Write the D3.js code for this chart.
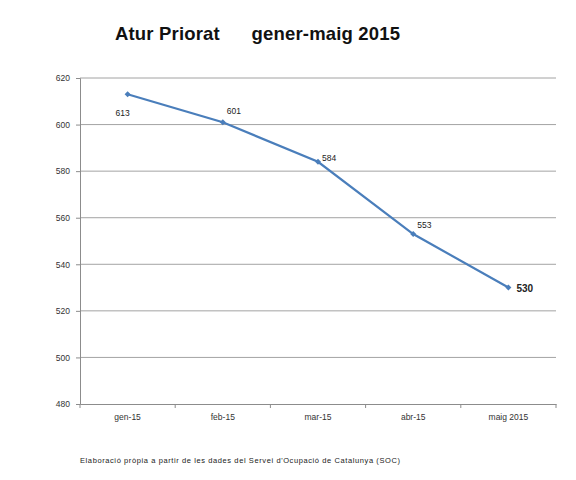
<!DOCTYPE html><html><head><meta charset="utf-8"><script src="https://cdn.jsdelivr.net/npm/d3@7"></script>
<style>body{margin:0;background:#fff}</style></head><body><svg id="c" width="576" height="480"></svg>
<script>
const categories=["gen-15","feb-15","mar-15","abr-15","maig 2015"];
const values=[613,601,584,553,530];
const yTicks=[480,500,520,540,560,580,600,620];
const svg=d3.select("#c");
const x=d3.scaleBand().domain(categories).range([80,556]);
const y=d3.scaleLinear().domain([480,620]).range([404,78]);
const f="'Liberation Sans',Arial,sans-serif";
svg.append("g").selectAll("line").data(yTicks.slice(1)).join("line")
 .attr("x1",80).attr("x2",556).attr("y1",d=>y(d)).attr("y2",d=>y(d)).attr("stroke","#8c8c8c").attr("stroke-width",0.8);
const ya=svg.append("g").attr("transform","translate(80,0)").call(d3.axisLeft(y).tickValues(yTicks).tickSize(4).tickPadding(6));
ya.selectAll("text").attr("font-family",f).attr("font-size",8.5).attr("fill","#333");
ya.selectAll("line,path").attr("stroke","#8c8c8c");
const xa=svg.append("g").attr("transform","translate(0,404)").call(d3.axisBottom(x).tickSize(0).tickPadding(10));
xa.selectAll("text").attr("font-family",f).attr("font-size",8.5).attr("fill","#333");
xa.select("path").attr("stroke","#8c8c8c");
xa.append("g").selectAll("line").data(categories.map(c=>x(c)).concat([556])).join("line")
 .attr("x1",d=>d).attr("x2",d=>d).attr("y1",0).attr("y2",4).attr("stroke","#8c8c8c");
const cx=c=>x(c)+x.bandwidth()/2;
const pts=categories.map((c,i)=>[cx(c),y(values[i])]);
svg.append("path").attr("d",d3.line()(pts)).attr("fill","none").attr("stroke","#4a7ebb").attr("stroke-width",2.2);
svg.append("g").selectAll("path").data(pts).join("path").attr("d",d3.symbol(d3.symbolSquare,18)())
 .attr("transform",d=>`translate(${d[0]},${d[1]}) rotate(45)`).attr("fill","#4a7ebb");
const off=[[-12,22],[4,-8],[4,-1],[4,-6],[8,4]];
svg.append("g").selectAll("text").data(values).join("text")
 .attr("x",(d,i)=>pts[i][0]+off[i][0]).attr("y",(d,i)=>pts[i][1]+off[i][1])
 .attr("font-family",f).attr("font-size",(d,i)=>i==4?10:8.5).attr("font-weight",(d,i)=>i==4?"bold":"normal").attr("fill","#222").text(d=>d);
svg.append("text").attr("x",115).attr("y",40).attr("font-family",f).attr("font-weight","bold").attr("font-size",18.5).attr("fill","#111")
 .attr("xml:space","preserve").attr("textLength",285).text("Atur Priorat      gener-maig 2015");
svg.append("text").attr("x",80).attr("y",463).attr("font-family",f).attr("font-size",7.5).attr("fill","#222")
 .attr("textLength",320).text("Elaboració pròpia a partir de les dades del Servei d'Ocupació de Catalunya (SOC)");
</script></body></html>
